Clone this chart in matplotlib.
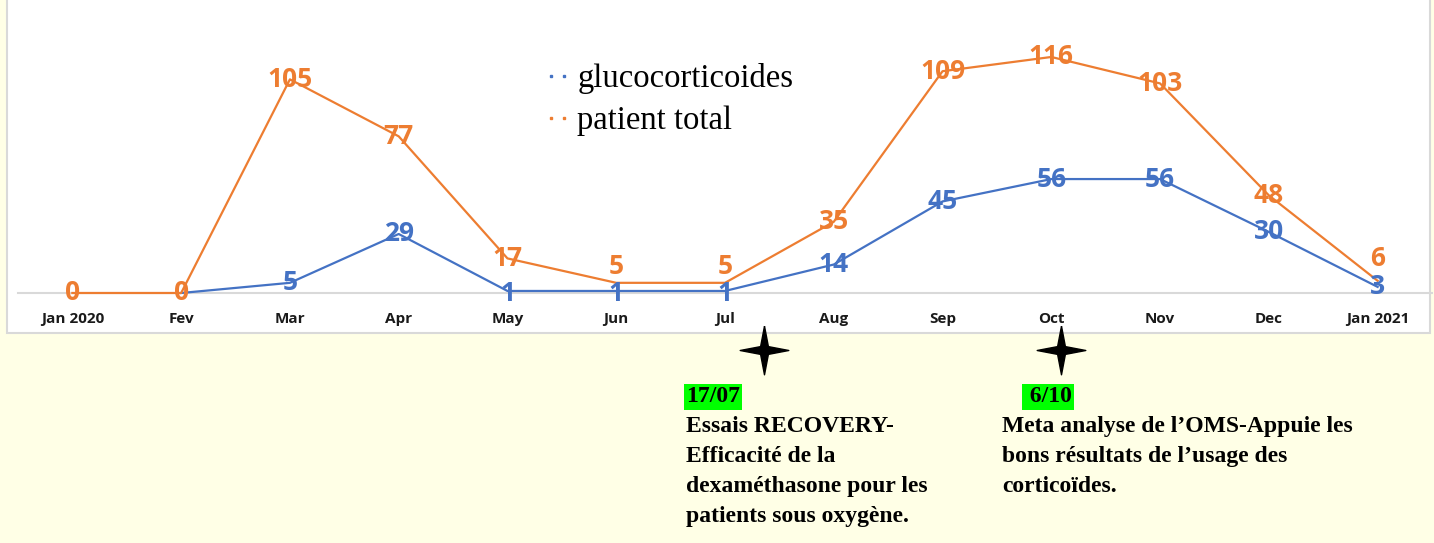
import numpy as np
import matplotlib.pyplot as plt
from matplotlib.lines import Line2D
from matplotlib.patches import Rectangle
from matplotlib.path import Path

months = ["Jan 2020", "Fev", "Mar", "Apr", "May", "Jun", "Jul",
          "Aug", "Sep", "Oct", "Nov", "Dec", "Jan 2021"]
gluco = [np.nan, 0, 5, 29, 1, 1, 1, 14, 45, 56, 56, 30, 3]
total = [0, 0, 105, 77, 17, 5, 5, 35, 109, 116, 103, 48, 6]

events = [("17/07", 6, "Essais RECOVERY-\nEfficacité de la\ndexaméthasone pour les\npatients sous oxygène."),
          (" 6/10", 9, "Meta analyse de l\u2019OMS-Appuie les\nbons résultats de l\u2019usage des\ncorticoïdes.")]

BLUE = "#4472C4"
ORANGE = "#ED7D31"
W, H = 1434, 543
LABFONT = "Open Sans"

fig = plt.figure(figsize=(W / 100, H / 100), dpi=100, facecolor="#FFFFE6")

# background overlay in pixel coords
bg = fig.add_axes([0, 0, 1, 1], zorder=0)
bg.set_xlim(0, W)
bg.set_ylim(H, 0)
bg.axis("off")
bg.add_patch(Rectangle((7, -5), 1423, 338, facecolor="white", edgecolor="#D9D9D9", lw=1.5))

ax = fig.add_axes([18 / W, 250 / H, 1414 / W, 293 / H], zorder=2)
ax.patch.set_alpha(0)
x = np.arange(len(months))
ax.plot(x, gluco, color=BLUE, lw=1.6, clip_on=False, zorder=3)
ax.plot(x, total, color=ORANGE, lw=1.6, clip_on=False, zorder=4)

# data labels, nudged where Excel had them moved
lab_dy_o = [0, 0, 0, 0, 0, 12, 12, 0, 0, 0, 0, 0, 16]
lab_dy_b = [0, 0, 0, 0, -2, -2, -2, 0, 0, 0, 0, 0, 0]
for i, v in enumerate(gluco):
    if np.isnan(v) or i == 1:
        continue
    ax.annotate(str(v), (i, v), xytext=(0, lab_dy_b[i]), textcoords="offset points",
                ha="center", va="center", color=BLUE, fontsize=19,
                fontweight="bold", family=LABFONT, zorder=5, annotation_clip=False)
for i, v in enumerate(total):
    ax.annotate(str(v), (i, v), xytext=(0, lab_dy_o[i]), textcoords="offset points",
                ha="center", va="center", color=ORANGE, fontsize=19,
                fontweight="bold", family=LABFONT, zorder=6, annotation_clip=False)

ax.set_xlim(-0.5, 12.5)
ax.set_ylim(0, 144)
ax.set_xticks(x)
ax.set_xticklabels(months, fontsize=11, fontweight="bold", family=LABFONT, color="#1a1a1a")
ax.tick_params(axis="x", length=0, pad=14)
ax.set_yticks([])
for s in ["top", "right", "left"]:
    ax.spines[s].set_visible(False)
ax.spines["bottom"].set_color("#D9D9D9")
ax.spines["bottom"].set_linewidth(1.5)
ax.spines["bottom"].set_zorder(1)

handles = [Line2D([], [], color=BLUE, marker="s", markersize=1.5, linestyle="none"),
           Line2D([], [], color=ORANGE, marker="s", markersize=1.5, linestyle="none")]
leg = ax.legend(handles, ["glucocorticoides", "patient total"], numpoints=2,
                loc="upper left", bbox_to_anchor=(512 / W, 1 - 34 / H),
                bbox_transform=fig.transFigure, frameon=False, handlelength=1.0,
                handletextpad=0.1, labelspacing=0.35,
                prop={"family": "Liberation Serif", "size": 23.5})

# event markers below the axis
star = Path([(0, 1), (0.16, 0.16), (1, 0), (0.16, -0.16), (0, -1),
             (-0.16, -0.16), (-1, 0), (-0.16, 0.16), (0, 1)])
for date, idx, txt in events:
    px = 18 + (idx + 0.5) * (1414 / 13)
    sx = px + 39 if idx == 6 else px + 10
    bg.plot([sx], [350], marker=star, markersize=35, color="black", linestyle="none")
    tx = 686 if idx == 6 else 1002
    dx = 0 if idx == 6 else 22
    bg.text(tx + dx, 397, date, fontsize=17, fontweight="bold", family="Liberation Serif",
            ha="left", va="center",
            bbox=dict(facecolor="#00FF00", edgecolor="none", pad=1.5))
    bg.text(tx, 416, txt, fontsize=17, fontweight="bold", family="Liberation Serif",
            ha="left", va="top", linespacing=1.57)

fig.savefig("out.png", dpi=100, facecolor=fig.get_facecolor())
